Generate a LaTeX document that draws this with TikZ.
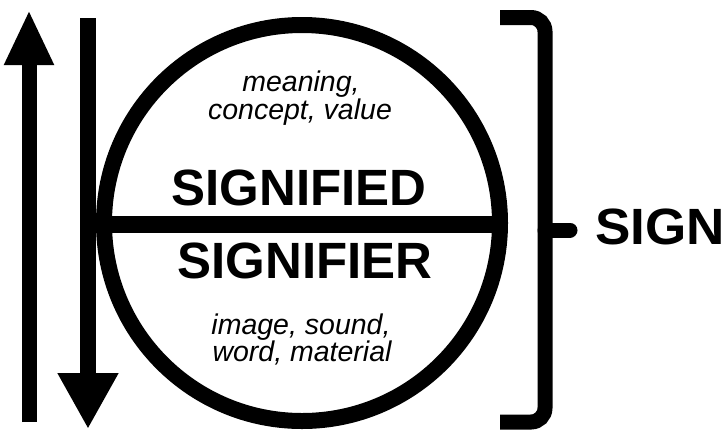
\documentclass[tikz,border=0pt]{standalone}
\usepackage{fontspec}
\setmainfont{Liberation Sans}
\usetikzlibrary{arrows.meta}
\tikzset{
  bigtxt/.style={inner sep=0pt, anchor=base, font=\fontsize{51}{51}\selectfont\bfseries},
  smalltxt/.style={inner sep=0pt, anchor=base, text height=20pt, text depth=4pt, font=\fontsize{28.5}{28.5}\selectfont\itshape},
  thick line/.style={line width=16pt, draw=black},
  bracestyle/.style={line width=15pt, draw=black}
}
\begin{document}
\begin{tikzpicture}[x=1pt,y=-1pt]
\useasboundingbox (0,0) rectangle (727,432);
% circle and divider
\coordinate (c) at (302,223);
\draw[thick line] (c) circle[radius=198];
\coordinate (dl) at (104,224);
\coordinate (dr) at (500,224);
\draw[line width=17pt] (dl) -- (dr);
% arrows
\coordinate (upbot) at (29,422);
\coordinate (uptop) at (29,10);
\draw[line width=15pt, -{Triangle[length=55pt,width=46pt]}] (upbot) -- (uptop);
\coordinate (dntop) at (88,18);
\coordinate (dnbot) at (88,429);
\draw[line width=16pt, -{Triangle[length=56pt,width=57pt]}] (dntop) -- (dnbot);
% brace
\coordinate (b1) at (500,17.5);
\coordinate (b2) at (545,17.5);
\coordinate (bm) at (545,230);
\coordinate (b3) at (545,422);
\coordinate (b4) at (500,422);
\coordinate (bt) at (570,230);
\draw[bracestyle, rounded corners=14pt] (b1) -- (b2) -- (bm) -- (b3) -- (b4);
\draw[bracestyle, line cap=round] (bm) -- (bt);
% texts
\node[bigtxt] (sd) at (299,205) {SIGNIFIED};
\node[bigtxt] (sr) at (305,278) {SIGNIFIER};
\node[bigtxt, anchor=base west] (sign) at (595,244) {\scalebox{1.04}[1]{SIGN}};
\node[smalltxt] (m1) at (301,91) {meaning,};
\node[smalltxt] (m2) at (300,119) {concept, value};
\node[smalltxt] (i1) at (301,334) {image, sound,};
\node[smalltxt] (i2) at (302,361) {word, material};
\end{tikzpicture}
\end{document}
